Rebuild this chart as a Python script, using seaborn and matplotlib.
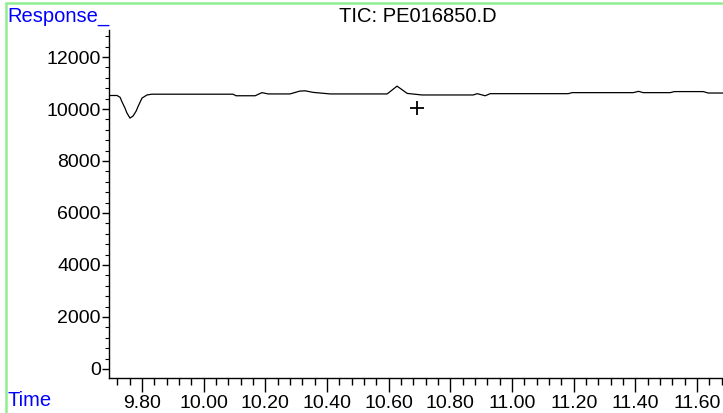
import matplotlib
matplotlib.use('Agg')
import matplotlib.pyplot as plt
import seaborn as sns
import pandas as pd
from matplotlib.patches import Rectangle
from matplotlib.ticker import MultipleLocator

# Chromatogram trace (retention time in min, abundance)
times = [9.693, 9.719, 9.729, 9.735, 9.745, 9.751, 9.761, 9.771, 9.781,
         9.787, 9.800, 9.816, 9.832,
         10.095, 10.105, 10.167, 10.189, 10.209, 10.280, 10.312, 10.329,
         10.355, 10.410, 10.595, 10.627, 10.660, 10.708, 10.874, 10.887,
         10.913, 10.929, 11.182, 11.195, 11.393, 11.410, 11.425, 11.513,
         11.526, 11.620, 11.636, 11.684]
response = [10520, 10520, 10450, 10280, 10030, 9850, 9650, 9730, 9920,
            10090, 10420, 10540, 10570,
            10570, 10510, 10510, 10630, 10580, 10580, 10690, 10700,
            10640, 10580, 10580, 10880, 10600, 10540, 10540, 10590,
            10510, 10590, 10590, 10630, 10630, 10680, 10630, 10630,
            10670, 10670, 10615, 10615]

# cursor marker
marker_time = [10.692]
marker_resp = [10040]

x_ticks = [9.80, 10.00, 10.20, 10.40, 10.60, 10.80, 11.00, 11.20, 11.40, 11.60]
y_ticks = [0, 2000, 4000, 6000, 8000, 10000, 12000]

df = pd.DataFrame({'Time': times, 'Response': response})

sns.set_style('white')
plt.rcParams['font.family'] = ['Liberation Sans', 'DejaVu Sans']

fig = plt.figure(figsize=(7.23, 4.13), dpi=100)
ax = fig.add_axes([109 / 723, 35 / 413, 1 - 109 / 723, 348 / 413])

sns.lineplot(data=df, x='Time', y='Response', color='black', linewidth=0.9, ax=ax)
sns.scatterplot(x=marker_time, y=marker_resp, marker='+', s=90, color='black',
                linewidth=1.3, ax=ax)

ax.set_xlim(9.693, 11.684)
ax.set_ylim(-350, 13040)
ax.set_xticks(x_ticks)
ax.set_xticklabels([f'{t:.2f}' for t in x_ticks])
ax.set_yticks(y_ticks)
ax.xaxis.set_minor_locator(MultipleLocator(0.04))
ax.yaxis.set_minor_locator(MultipleLocator(400))
ax.set_xlabel('')
ax.set_ylabel('')

for side in ['top', 'right']:
    ax.spines[side].set_visible(False)
for side in ['left', 'bottom']:
    ax.spines[side].set_color('black')
    ax.spines[side].set_linewidth(1.0)

ax.tick_params(axis='both', which='both', direction='out', color='black',
               labelsize=14, labelcolor='black')
ax.tick_params(axis='x', which='major', length=10, width=1, pad=2)
ax.tick_params(axis='x', which='minor', length=5, width=1)
ax.tick_params(axis='y', which='major', length=5, width=1, pad=1)
ax.tick_params(axis='y', which='minor', length=3, width=0.8)
ax.tick_params(bottom=True, left=True, which='both')

# header / axis captions
fig.text(7 / 723, 1 - 16 / 413, 'Response_', color='#0000ff', fontsize=14.5,
         ha='left', va='center')
fig.text(418 / 723, 1 - 17 / 413, 'TIC: PE016850.D', color='black', fontsize=14.5,
         ha='center', va='center')
fig.text(7 / 723, 1 - 401 / 413, 'Time', color='#0000ff', fontsize=14.5,
         ha='left', va='center')

# light green frame
fig.add_artist(Rectangle((6 / 723, -0.1), 1.2, 1.1 - 3 / 413, transform=fig.transFigure,
                         fill=False, edgecolor='#90ee90', linewidth=1.8))

fig.savefig('out.png', dpi=100)
